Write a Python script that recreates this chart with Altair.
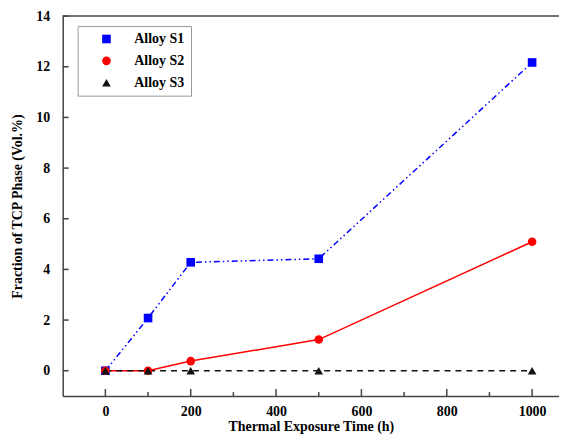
import altair as alt
import pandas as pd

# ---- data ----
hours = [0, 100, 200, 500, 1000]
series_names = ["Alloy S1", "Alloy S2", "Alloy S3"]
s1 = [0, 2.08, 4.28, 4.42, 12.17]
s2 = [0, 0, 0.38, 1.23, 5.09]
s3 = [0, 0, 0, 0, 0]

x_major = [0, 200, 400, 600, 800, 1000]
x_minor = [100, 300, 500, 700, 900]
y_major = [0, 2, 4, 6, 8, 10, 12, 14]
y_top = [14]

colors = ["#0000ff", "#ff0000", "#111111"]
dashes = [[6, 3, 1.5, 3, 1.5, 3], None, [6, 5]]
marker_shapes = ["square", "circle", "triangle-up"]

rows = []
for name, vals in zip(series_names, [s1, s2, s3]):
    for h, v in zip(hours, vals):
        rows.append({"hours": h, "frac": v, "series": name})
df = pd.DataFrame(rows)

FONT = "Liberation Serif"
W, H = 499, 382
AX = "#444444"

xs = alt.Scale(domain=[-100, 1063], nice=False, zero=False)
ys = alt.Scale(domain=[-1, 14], nice=False, zero=False)
cs = alt.Scale(domain=series_names, range=colors)
ss = alt.Scale(domain=series_names, range=marker_shapes)

x_axis = alt.Axis(values=x_major, format="d", ticks=False, grid=False, domainColor=AX, domainWidth=1.5,
                  labelFont=FONT, labelFontWeight="bold", labelFontSize=14, labelColor="black",
                  labelPadding=9, title="Thermal Exposure Time (h)", titleFont=FONT,
                  titleFontWeight="bold", titleFontSize=14, titleColor="black", titlePadding=1)
y_axis = alt.Axis(values=y_major, ticks=False, grid=False, domainColor=AX, domainWidth=1.5,
                  labelFont=FONT, labelFontWeight="bold", labelFontSize=14, labelColor="black",
                  labelPadding=13, title="Fraction of TCP Phase (Vol.%)", titleFont=FONT,
                  titleFontWeight="bold", titleFontSize=14, titleColor="black", titlePadding=11)

layers = []
for i, (name, col, dash) in enumerate(zip(series_names, colors, dashes)):
    mk = {"color": col, "strokeWidth": 1.5}
    if dash is not None:
        mk["strokeDash"] = dash
    if i == 0:
        enc = dict(x=alt.X("hours:Q", scale=xs, axis=x_axis), y=alt.Y("frac:Q", scale=ys, axis=y_axis))
    else:
        enc = dict(x=alt.X("hours:Q", scale=xs), y=alt.Y("frac:Q", scale=ys))
    layers.append(alt.Chart(df).transform_filter(alt.datum.series == name).mark_line(**mk).encode(**enc))

leg = alt.Legend(title=None, orient="none", legendX=15, legendY=10,
                 labelFont=FONT, labelFontWeight="bold", labelFontSize=14, labelColor="black",
                 strokeColor="#999999", fillColor="white", padding=6, rowPadding=8,
                 symbolSize=75, symbolOffset=16, labelOffset=21)

points = alt.Chart(df).mark_point(filled=True, size=75, opacity=1).encode(
    x=alt.X("hours:Q", scale=xs),
    y=alt.Y("frac:Q", scale=ys),
    color=alt.Color("series:N", scale=cs, legend=leg),
    shape=alt.Shape("series:N", scale=ss, legend=leg),
)
layers.append(points)

# inward tick marks and the top frame line, positioned through the scales
layers.append(alt.Chart(pd.DataFrame({"t": x_major})).mark_tick(
    orient="vertical", size=7, thickness=1.5, color=AX, opacity=1).encode(
    x=alt.X("t:Q", scale=xs), y=alt.value(H - 3.5)))
layers.append(alt.Chart(pd.DataFrame({"t": x_minor})).mark_tick(
    orient="vertical", size=4, thickness=1.5, color=AX, opacity=1).encode(
    x=alt.X("t:Q", scale=xs), y=alt.value(H - 2)))
layers.append(alt.Chart(pd.DataFrame({"t": y_major})).mark_tick(
    orient="horizontal", size=6, thickness=1.5, color=AX, opacity=1).encode(
    y=alt.Y("t:Q", scale=ys), x=alt.value(3)))
layers.append(alt.Chart(pd.DataFrame({"t": y_top})).mark_tick(
    orient="horizontal", size=W, thickness=1.5, color=AX, opacity=1).encode(
    y=alt.Y("t:Q", scale=ys), x=alt.value(W / 2)))

chart = alt.layer(*layers).properties(
    width=W, height=H,
    autosize=alt.AutoSizeParams(type="none"),
    padding={"left": 55, "top": 7, "right": 0, "bottom": 38},
).configure_view(stroke=None)

chart.save("out.html", embed_options={"renderer": "svg", "actions": False})
